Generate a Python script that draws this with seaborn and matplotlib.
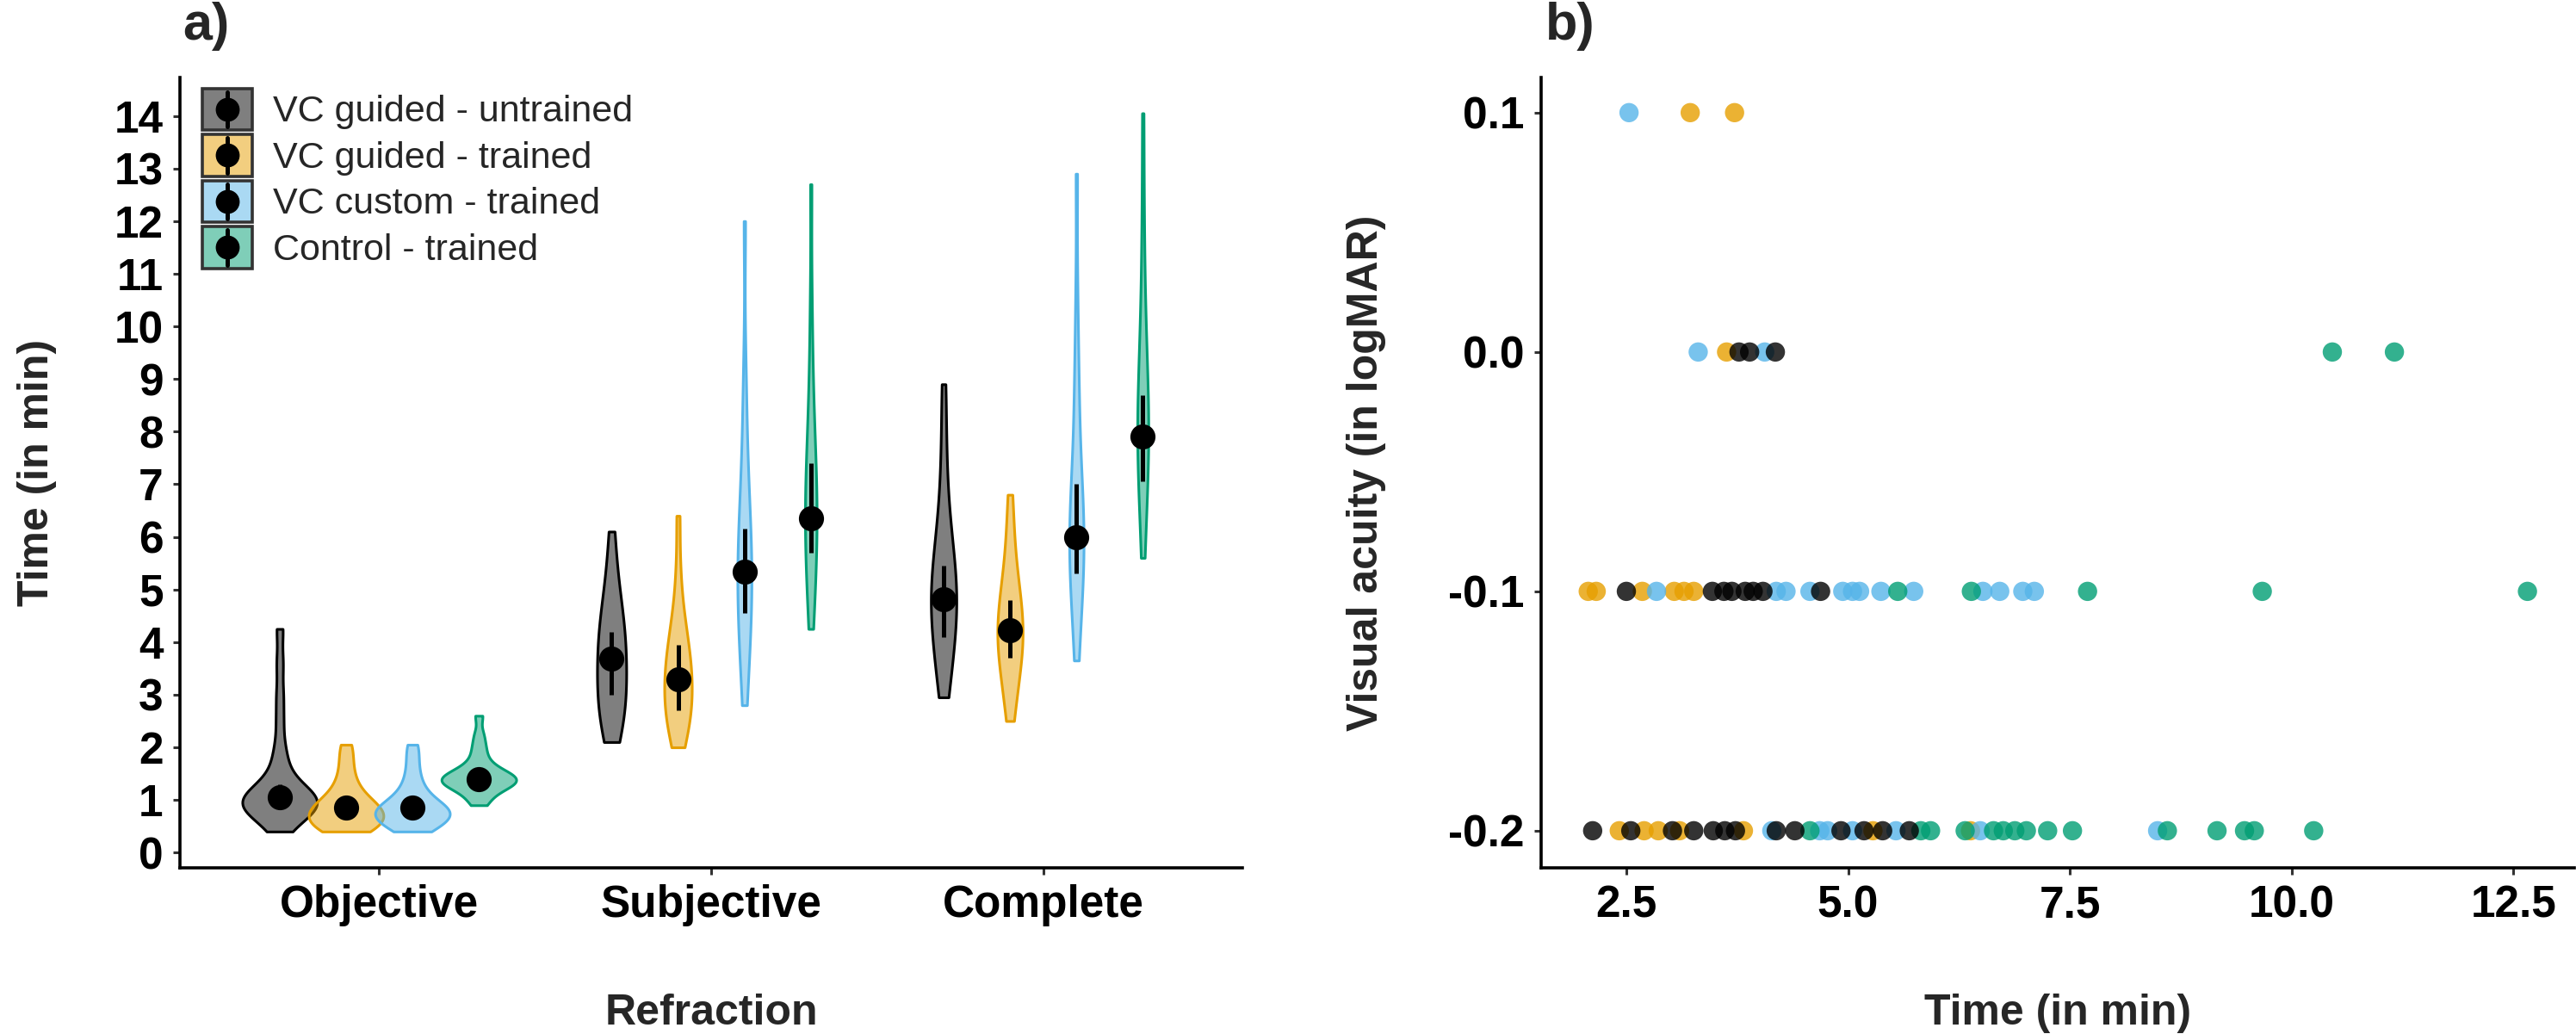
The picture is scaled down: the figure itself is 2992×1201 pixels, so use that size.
import numpy as np
import pandas as pd
import seaborn as sns
import matplotlib
matplotlib.use("Agg")
import matplotlib.pyplot as plt
from matplotlib.legend_handler import HandlerBase
from matplotlib.patches import Rectangle
from matplotlib.lines import Line2D
from matplotlib.collections import PolyCollection

sns.set_theme(style="ticks")
plt.rcParams["font.family"] = ["Liberation Sans", "DejaVu Sans"]
plt.rcParams["axes.unicode_minus"] = False

# groups and colours
groups = ["VC guided - untrained", "VC guided - trained", "VC custom - trained", "Control - trained"]
colors = ["#000000", "#E69F00", "#56B4E9", "#009E73"]
refractions = ["Objective", "Subjective", "Complete"]

# panel a: time samples (min) per refraction and group, estimated from the violin outlines
obj_guided_untrained = [0.4, 0.56, 0.67, 0.74, 0.79, 0.83, 0.87, 0.90, 0.93, 0.97, 1.00, 1.03,
                        1.07, 1.11, 1.16, 1.23, 1.34, 1.5, 1.75, 2.0, 2.5, 3.0, 3.6, 4.25]
obj_guided_trained = [0.4, 0.42, 0.45, 0.5, 0.55, 0.6, 0.65, 0.7, 0.72, 0.75, 0.8, 0.85, 0.9,
                      0.95, 1.0, 1.1, 1.2, 1.35, 1.55, 1.8, 2.05]
obj_custom_trained = [0.4, 0.45, 0.5, 0.55, 0.6, 0.65, 0.7, 0.72, 0.75, 0.78, 0.8, 0.85, 0.9,
                      0.95, 1.0, 1.1, 1.2, 1.35, 1.55, 1.8, 2.05]
obj_control_trained = [0.9, 1.0, 1.10, 1.18, 1.23, 1.26, 1.29, 1.32, 1.34, 1.37, 1.39, 1.42, 1.44,
                       1.47, 1.50, 1.53, 1.58, 1.66, 1.75, 1.9, 2.05, 2.25, 2.6]

subj_guided_untrained = [2.1, 2.3, 2.45, 2.6, 2.75, 2.9, 3.05, 3.2, 3.35, 3.5, 3.65, 3.8,
                         3.95, 4.1, 4.25, 4.4, 4.6, 4.8, 5.1, 5.5, 6.1]
subj_guided_trained = [2.0, 2.2, 2.35, 2.5, 2.62, 2.74, 2.86, 2.98, 3.1, 3.22, 3.34, 3.46,
                       3.58, 3.72, 3.86, 4.0, 4.2, 4.45, 4.75, 5.4, 6.4]
subj_custom_trained = [2.8, 3.3, 3.7, 4.0, 4.25, 4.5, 4.7, 4.9, 5.1, 5.3, 5.5, 5.7,
                       5.9, 6.15, 6.4, 6.7, 7.1, 7.6, 8.3, 9.2, 12.0]
subj_control_trained = [4.25, 4.7, 5.0, 5.3, 5.55, 5.8, 6.0, 6.2, 6.4, 6.6, 6.8, 7.0,
                        7.25, 7.5, 7.8, 8.2, 8.7, 9.4, 10.5, 12.7]

comp_guided_untrained = [2.95, 3.3, 3.6, 3.85, 4.05, 4.25, 4.45, 4.6, 4.75, 4.9, 5.05, 5.2,
                         5.4, 5.6, 5.85, 6.1, 6.5, 7.1, 7.9, 8.9]
comp_guided_trained = [2.5, 2.85, 3.15, 3.35, 3.55, 3.7, 3.85, 3.97, 4.1, 4.22, 4.35, 4.48,
                       4.62, 4.78, 4.95, 5.15, 5.4, 5.75, 6.2, 6.8]
comp_custom_trained = [3.65, 4.2, 4.6, 4.9, 5.15, 5.35, 5.55, 5.72, 5.9, 6.08, 6.25, 6.45,
                       6.65, 6.9, 7.2, 7.6, 8.2, 8.8, 9.4, 10.6, 12.9]
comp_control_trained = [5.6, 6.2, 6.6, 6.95, 7.2, 7.45, 7.65, 7.85, 8.05, 8.25, 8.45, 8.7,
                        8.95, 9.25, 9.6, 10.0, 10.6, 11.4, 12.5, 14.05]

# panel a: point estimate and interval per group (order of groups)
mid_objective = [1.05, 0.85, 0.85, 1.40]
lo_objective = [0.85, 0.70, 0.70, 1.25]
hi_objective = [1.30, 1.00, 1.00, 1.55]
mid_subjective = [3.68, 3.30, 5.33, 6.35]
lo_subjective = [3.00, 2.70, 4.55, 5.70]
hi_subjective = [4.20, 3.95, 6.15, 7.40]
mid_complete = [4.82, 4.22, 6.00, 7.90]
lo_complete = [4.10, 3.70, 5.30, 7.05]
hi_complete = [5.45, 4.80, 7.00, 8.70]

# panel b: time (min) and visual acuity (logMAR) per group
guided_trained_time = [3.22, 3.72, 3.63, 2.07, 2.16, 2.68, 3.04, 3.15, 3.26,
                       2.42, 2.70, 2.86, 3.10, 3.82, 5.28, 6.38]
guided_trained_va = [0.1, 0.1, 0.0, -0.1, -0.1, -0.1, -0.1, -0.1, -0.1,
                     -0.2, -0.2, -0.2, -0.2, -0.2, -0.2, -0.2]
custom_trained_time = [2.53, 3.31, 4.06, 2.84, 4.19, 4.30, 4.57, 4.94, 5.05, 5.13, 5.37, 5.74,
                       6.52, 6.71, 6.97, 7.10, 4.14, 4.68, 4.77, 5.05, 5.54, 6.49, 8.49]
custom_trained_va = [0.1, 0.0, 0.0, -0.1, -0.1, -0.1, -0.1, -0.1, -0.1, -0.1, -0.1, -0.1,
                     -0.1, -0.1, -0.1, -0.1, -0.2, -0.2, -0.2, -0.2, -0.2, -0.2, -0.2]
control_trained_time = [10.46, 11.16, 5.56, 6.39, 7.70, 9.67, 12.66,
                        4.57, 5.82, 5.93, 6.32, 6.64, 6.75, 6.88, 7.01, 7.25, 7.53,
                        8.60, 9.16, 9.47, 9.58, 10.25]
control_trained_va = [0.0, 0.0, -0.1, -0.1, -0.1, -0.1, -0.1,
                      -0.2, -0.2, -0.2, -0.2, -0.2, -0.2, -0.2, -0.2, -0.2, -0.2,
                      -0.2, -0.2, -0.2, -0.2, -0.2]
guided_untrained_time = [3.77, 3.89, 4.18, 2.50, 3.47, 3.60, 3.69, 3.84, 3.93, 4.04, 4.69,
                         2.12, 2.55, 3.02, 3.26, 3.48, 3.61, 3.73, 4.19, 4.40, 4.92, 5.18, 5.39, 5.69]
guided_untrained_va = [0.0, 0.0, 0.0, -0.1, -0.1, -0.1, -0.1, -0.1, -0.1, -0.1, -0.1,
                       -0.2, -0.2, -0.2, -0.2, -0.2, -0.2, -0.2, -0.2, -0.2, -0.2, -0.2, -0.2, -0.2]

time_ticks = list(range(0, 15))
va_ticks = [-0.2, -0.1, 0.0, 0.1]
b_time_ticks = [2.5, 5.0, 7.5, 10.0, 12.5]

# long tables
samples = {
    "Objective": [obj_guided_untrained, obj_guided_trained, obj_custom_trained, obj_control_trained],
    "Subjective": [subj_guided_untrained, subj_guided_trained, subj_custom_trained, subj_control_trained],
    "Complete": [comp_guided_untrained, comp_guided_trained, comp_custom_trained, comp_control_trained],
}
rows = []
for ref in refractions:
    for g, vals in zip(groups, samples[ref]):
        rows += [(ref, g, v) for v in vals]
df_a = pd.DataFrame(rows, columns=["Refraction", "Group", "Time"])

df_b = pd.concat([
    pd.DataFrame({"Time": guided_trained_time, "VA": guided_trained_va, "Group": groups[1]}),
    pd.DataFrame({"Time": custom_trained_time, "VA": custom_trained_va, "Group": groups[2]}),
    pd.DataFrame({"Time": control_trained_time, "VA": control_trained_va, "Group": groups[3]}),
    pd.DataFrame({"Time": guided_untrained_time, "VA": guided_untrained_va, "Group": groups[0]}),
], ignore_index=True)

palette = dict(zip(groups, colors))


def nrd0(kde):
    # R's default bandwidth rule, expressed as a factor of the sample sd
    x = kde.dataset[0]
    sd = x.std(ddof=1)
    q75, q25 = np.percentile(x, [75, 25])
    h = 0.9 * min(sd, (q75 - q25) / 1.34) * len(x) ** -0.2
    return h / sd


fig = plt.figure(figsize=(14.96, 6.005), dpi=200)
ax_a = fig.add_axes([0.0699, 0.1607, 0.4124, 0.7644])
ax_b = fig.add_axes([0.5983, 0.1607, 0.4011, 0.7644])

# ---- panel a: violins
sns.violinplot(data=df_a, x="Refraction", y="Time", hue="Group", order=refractions,
               hue_order=groups, palette=palette, saturation=1, cut=0, inner=None,
               density_norm="area", bw_method=nrd0, bw_adjust=1.1,
               width=0.8, linewidth=1.1, legend=False, ax=ax_a)

for coll in ax_a.collections:
    if isinstance(coll, PolyCollection):
        rgb = coll.get_facecolor()[0][:3]
        coll.set_facecolor((*rgb, 0.5))
        coll.set_edgecolor((*rgb, 1.0))
        coll.set_linewidth(1.1)
        new_verts = []
        for p in coll.get_paths():
            v = p.vertices.copy()
            c = (v[:, 0].max() + v[:, 0].min()) / 2
            v[:, 0] = c + (v[:, 0] - c) * 1.125
            new_verts.append(v)
        coll.set_verts(new_verts)

mids = [mid_objective, mid_subjective, mid_complete]
los = [lo_objective, lo_subjective, lo_complete]
his = [hi_objective, hi_subjective, hi_complete]
offsets = np.array([-0.3, -0.1, 0.1, 0.3])
for i in range(len(refractions)):
    xs = i + offsets
    ax_a.vlines(xs, los[i], his[i], color="black", lw=1.8, zorder=4)
    ax_a.plot(xs, mids[i], "o", color="black", ms=9.5, zorder=5)

ax_a.set_xlim(-0.6, 2.6)
ax_a.set_ylim(-0.29, 14.73)
ax_a.set_yticks(time_ticks)
ax_a.set_xlabel("Refraction", fontsize=18, fontweight="bold", labelpad=28)
ax_a.set_ylabel("Time (in min)", fontsize=18, fontweight="bold", labelpad=24)


class KeyHandler(HandlerBase):
    def create_artists(self, legend, orig_handle, xdescent, ydescent, width, height, fontsize, trans):
        x0, y0 = -xdescent, -ydescent
        rect = Rectangle((x0, y0), width, height, facecolor=orig_handle.face,
                         edgecolor="#333333", lw=1.3, transform=trans)
        cx = x0 + width / 2
        line = Line2D([cx, cx], [y0 + 0.08 * height, y0 + 0.92 * height], color="black", lw=1.8, transform=trans)
        dot = Line2D([cx], [y0 + height / 2], marker="o", ms=9, color="black", lw=0, transform=trans)
        return [rect, line, dot]


class Key:
    def __init__(self, color):
        r, g, b, _ = matplotlib.colors.to_rgba(color)
        self.face = (r, g, b, 0.5)


keys = [Key(c) for c in colors]
ax_a.legend(keys, groups, handler_map={Key: KeyHandler()}, loc="upper left",
            bbox_to_anchor=(0.021, 0.986), borderaxespad=0, borderpad=0, frameon=False,
            fontsize=15.5, handlelength=1.35, handleheight=1.35, labelspacing=0.12, handletextpad=0.55)

# ---- panel b: scatter
sns.scatterplot(data=df_b, x="Time", y="VA", hue="Group", palette=palette, s=65,
                alpha=0.8, edgecolor="none", legend=False, ax=ax_b)
ax_b.set_xlim(1.54, 13.19)
ax_b.set_ylim(-0.2155, 0.1147)
ax_b.set_xticks(b_time_ticks)
ax_b.set_xticklabels([f"{t:.1f}" for t in b_time_ticks])
ax_b.set_yticks(va_ticks)
ax_b.set_yticklabels([f"{v:.1f}" for v in va_ticks])
ax_b.set_xlabel("Time (in min)", fontsize=18, fontweight="bold", labelpad=28)
ax_b.set_ylabel("Visual acuity (in logMAR)", fontsize=18, fontweight="bold", labelpad=26)

for ax in (ax_a, ax_b):
    sns.despine(ax=ax)
    for side in ("left", "bottom"):
        ax.spines[side].set_linewidth(1.3)
        ax.spines[side].set_color("black")
    ax.tick_params(length=3, width=1.1, color="#333333", labelsize=18.5, labelcolor="black", pad=4)
    for lab in ax.get_xticklabels() + ax.get_yticklabels():
        lab.set_fontweight("bold")
    ax.grid(False)

fig.text(212 / 2992, 1 - 2 / 1201, "a)", ha="left", va="top", fontsize=22, fontweight="bold")
fig.text(1795 / 2992, 1 - 2 / 1201, "b)", ha="left", va="top", fontsize=22, fontweight="bold")

fig.savefig("out.png", dpi=200)
